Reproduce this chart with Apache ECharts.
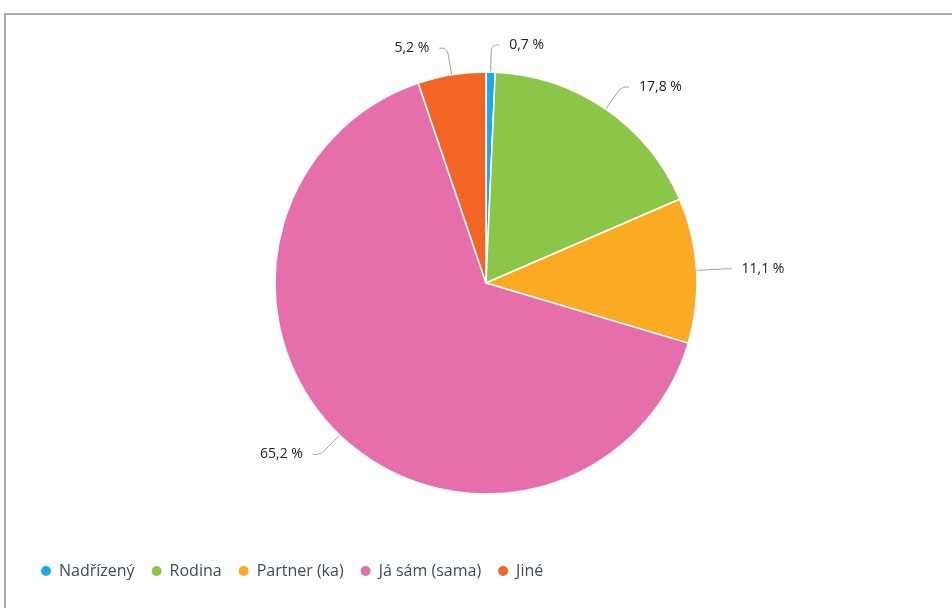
<!DOCTYPE html>
<html>
<head>
<meta charset="utf-8">
<script src="https://cdn.jsdelivr.net/npm/echarts@6/dist/echarts.min.js"></script>
<style>
  html, body { margin: 0; padding: 0; background: #fff; }
  #frame { position: absolute; left: 4px; top: 13px; width: 960px; height: 620px;
           border-left: 2px solid #ababab; border-top: 2px solid #ababab; }
  #chart { position: absolute; left: 0; top: 0; width: 952px; height: 608px; }
</style>
</head>
<body>
<div id="frame"></div>
<div id="chart"></div>
<script>
// Kdo rozhoduje – podíly odpovědí v procentech
const categories = ['Nadřízený', 'Rodina', 'Partner (ka)', 'Já sám (sama)', 'Jiné'];
const shares = [0.7, 17.8, 11.1, 65.2, 5.2];
const colors = ['#1ea7e5', '#8cc648', '#fbaa23', '#e56eab', '#f26524'];

const chart = echarts.init(document.getElementById('chart'), null, { renderer: 'canvas' });

const fmt = v => v.toFixed(1).replace('.', ',') + ' %';

chart.setOption({
  animation: false,
  color: colors,
  legend: {
    data: categories,
    left: 34,
    top: 558,
    icon: 'circle',
    itemWidth: 12,
    itemHeight: 12,
    itemGap: 15,
    textStyle: { fontFamily: 'Open Sans', fontSize: 16, color: '#3d4b5c', padding: [0, 0, 0, 2] }
  },
  series: [{
    type: 'pie',
    center: [486, 283],
    radius: [0, 211],
    startAngle: 90,
    clockwise: true,
    avoidLabelOverlap: false,
    itemStyle: { borderColor: '#ffffff', borderWidth: 1.5 },
    label: {
      formatter: p => fmt(p.value),
      fontFamily: 'Open Sans',
      fontSize: 14,
      color: '#222',
      distanceToLabelLine: 10
    },
    labelLine: {
      length: 27,
      length2: 8,
      smooth: 0.4,
      lineStyle: { color: '#9a9a9a', width: 1 }
    },
    emphasis: { disabled: true },
    data: categories.map((name, i) => ({ name, value: shares[i] }))
  }]
});
</script>
</body>
</html>
